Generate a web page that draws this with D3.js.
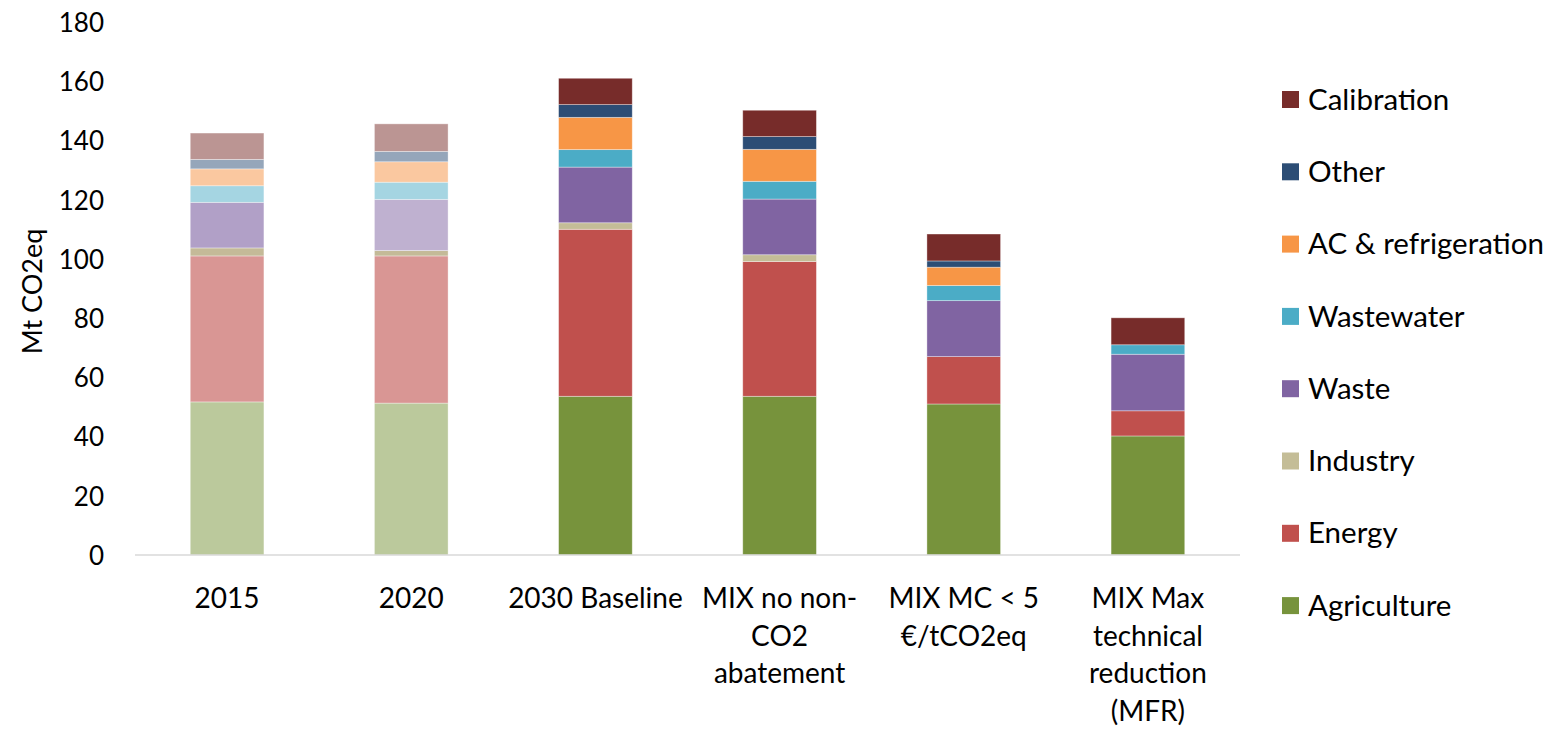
<!DOCTYPE html>
<html>
<head>
<meta charset="utf-8">
<script src="https://cdn.jsdelivr.net/npm/d3@7"></script>
<style>
  html, body { margin: 0; padding: 0; background: #fff; }
  svg text { font-family: Lato, "Open Sans", sans-serif; fill: #000; }
</style>
</head>
<body>
<svg id="chart" width="1547" height="731"></svg>
<script>
// Scenario categories (multi-line labels split with "|")
const categories = ["2015", "2020", "2030 Baseline", "MIX no non-|CO2|abatement", "MIX MC < 5|€/tCO2eq", "MIX Max|technical|reduction|(MFR)"];

// Emissions by sector, Mt CO2eq
const agriculture  = [51.7, 51.3, 53.6, 53.6, 51.0, 40.2];
const energy       = [49.3, 49.7, 56.4, 45.5, 16.0, 8.5];
const industry     = [2.7, 1.8, 2.2, 2.3, 0.0, 0.0];
const waste        = [15.4, 17.3, 18.8, 18.8, 18.9, 19.1];
const wastewater   = [5.6, 5.8, 5.9, 6.0, 5.1, 3.2];
const acRefrig     = [5.7, 6.9, 10.9, 10.8, 6.2, 0.0];
const other        = [3.2, 3.5, 4.3, 4.3, 2.1, 0.0];
const calibration  = [8.9, 9.3, 8.9, 8.9, 9.1, 9.1];

const yTicks = [0, 20, 40, 60, 80, 100, 120, 140, 160, 180];

// full colour for projections, faded tone for historical years
const sectors = [
  { name: "Agriculture", values: agriculture, color: "#77933C", faded: "#BBC99C" },
  { name: "Energy", values: energy, color: "#C0504D", faded: "#D99694" },
  { name: "Industry", values: industry, color: "#C4BD97", faded: "#C4BA98" },
  { name: "Waste", values: waste, color: "#8064A2", faded: "#B1A0C7" },
  { name: "Wastewater", values: wastewater, color: "#4BACC6", faded: "#A5D5E2" },
  { name: "AC & refrigeration", values: acRefrig, color: "#F79646", faded: "#FAC8A0" },
  { name: "Other", values: other, color: "#2C4D75", faded: "#95A6BA" },
  { name: "Calibration", values: calibration, color: "#772C2A", faded: "#BB9593" }
];

const historical = new Set(["2015", "2020"]);
// 2020 waste is shown a shade lighter than 2015
const fadedOverride = { "2020|Waste": "#BFB1D0" };

const table = categories.map((c, i) => {
  const row = { cat: c };
  sectors.forEach(s => row[s.name] = s.values[i]);
  return row;
});

const svg = d3.select("#chart");
const margin = { left: 135, right: 307, top: 22, bottom: 176 };
const width = 1547 - margin.left - margin.right;
const height = 731 - margin.top - margin.bottom;

const x = d3.scaleBand().domain(categories).range([margin.left, margin.left + width]).paddingInner(0.6).paddingOuter(0.3);
const y = d3.scaleLinear().domain([0, 180]).range([margin.top + height, margin.top]);

const series = d3.stack().keys(sectors.map(s => s.name))(table);

// stacked bars
const g = svg.append("g");
series.forEach((layer, k) => {
  const s = sectors[k];
  g.selectAll(null).data(layer).join("rect")
    .attr("x", d => x(d.data.cat))
    .attr("width", x.bandwidth())
    .attr("y", d => y(d[1]))
    .attr("height", d => Math.max(0, y(d[0]) - y(d[1])))
    .attr("fill", d => historical.has(d.data.cat)
      ? (fadedOverride[d.data.cat + "|" + s.name] || s.faded)
      : s.color)
    .attr("stroke", "#fff")
    .attr("stroke-opacity", 0.45)
    .attr("stroke-width", d => (d[1] - d[0]) > 0 ? 0.8 : 0);
});

// baseline axis
svg.append("line")
  .attr("x1", margin.left).attr("x2", margin.left + width)
  .attr("y1", y(0)).attr("y2", y(0))
  .attr("stroke", "#D9D9D9").attr("stroke-width", 1.5);

// y axis tick labels
const yAxis = d3.axisLeft(y).tickValues(yTicks).tickSize(0).tickPadding(0);
const ya = svg.append("g").attr("transform", "translate(104,0)").call(yAxis);
ya.select(".domain").remove();
ya.selectAll("text").attr("font-size", 26).style("font-family", "Lato, 'Open Sans', sans-serif").attr("fill", "#000").attr("dy", "0.36em");

// y axis title
svg.append("text")
  .attr("transform", `translate(42,${y(89)}) rotate(-90)`)
  .attr("text-anchor", "middle")
  .attr("font-size", 27)
  .text("Mt CO2eq");

// x category labels
const xl = svg.append("g");
categories.forEach(c => {
  const cx = x(c) + x.bandwidth() / 2;
  const t = xl.append("text")
    .attr("x", cx)
    .attr("y", 608)
    .attr("text-anchor", "middle")
    .attr("font-size", 28);
  c.split("|").forEach((ln, i) => {
    t.append("tspan").attr("x", cx).attr("dy", i === 0 ? 0 : 37.5).text(ln);
  });
});

// legend, top entry is the top of the stack
const legend = svg.append("g");
sectors.slice().reverse().forEach((s, i) => {
  const yy = 99 + i * 72.3;
  legend.append("rect").attr("x", 1282).attr("y", yy - 8).attr("width", 17).attr("height", 17).attr("fill", s.color);
  legend.append("text").attr("x", 1308).attr("y", yy).attr("dy", "0.36em").attr("font-size", 29.5).text(s.name);
});
</script>
</body>
</html>
